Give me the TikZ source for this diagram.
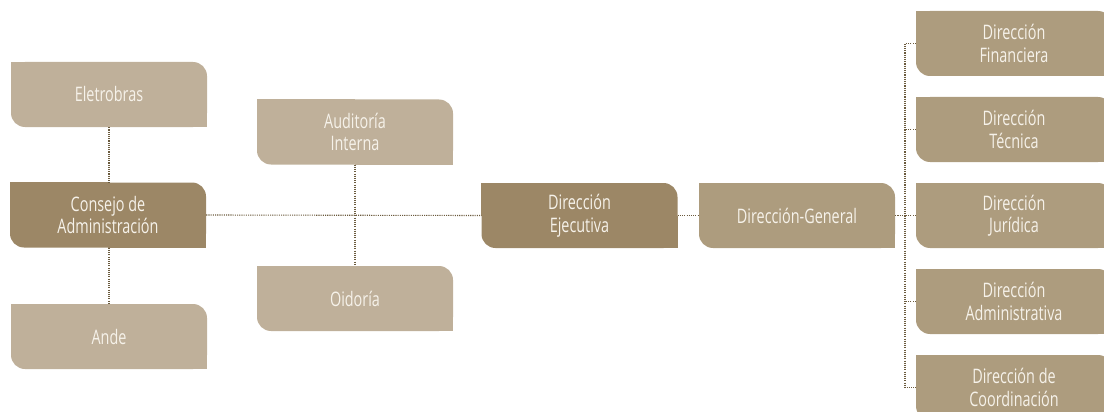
\documentclass[tikz,border=0pt]{standalone}
\usepackage{fontspec}
\setmainfont{Open Sans}[FakeStretch=0.72]
\usetikzlibrary{backgrounds}
\definecolor{lightbox}{HTML}{BFB09A}
\definecolor{darkbox}{HTML}{9C8766}
\definecolor{midbox}{HTML}{AD9C7E}
\definecolor{linec}{HTML}{6B5B3E}
\definecolor{txtc}{HTML}{F6F2EA}
\tikzset{
  orgbox/.style={rectangle, rounded corners=14pt, minimum width=196pt, minimum height=65pt,
    inner sep=0pt, align=center, text=txtc, font=\fontsize{20}{22.5}\selectfont},
  light/.style={orgbox, fill=lightbox},
  dark/.style={orgbox, fill=darkbox},
  mid/.style={orgbox, fill=midbox},
  conn/.style={draw=linec, line width=1.1pt, dash pattern=on 1.1pt off 1.1pt}
}
\begin{document}
\begin{tikzpicture}[x=1pt,y=-1pt]
\useasboundingbox (0,0) rectangle (1104,412);
\node[light] (ele) at (109,94.5) {Eletrobras};
\node[dark]  (cons) at (108,215) {Consejo de\\Administración};
\node[light] (ande) at (109,336.5) {Ande};
\node[light] (aud) at (355,132) {Auditoría\\Interna};
\node[light] (oid) at (355,298.5) {Oidoría};
\node[dark]  (ejec) at (579.5,215.5) {Dirección\\Ejecutiva};
\node[mid]   (gen) at (797,215.5) {Dirección-General};
\node[mid]   (fin) at (1014,43.5) {Dirección\\Financiera};
\node[mid]   (tec) at (1014,129.5) {Dirección\\Técnica};
\node[mid]   (jur) at (1014,215.5) {Dirección\\Jurídica};
\node[mid]   (adm) at (1014,301.5) {Dirección\\Administrativa};
\node[mid]   (coo) at (1014,387.5) {Dirección de\\Coordinación};
\coordinate (trunk) at (905,215.5);
\begin{scope}[on background layer]
\foreach \n/\c in {ele/lightbox,cons/darkbox,ande/lightbox,aud/lightbox,oid/lightbox,ejec/darkbox,gen/midbox,fin/midbox,tec/midbox,jur/midbox,adm/midbox,coo/midbox}{
  \fill[\c] (\n.north west) rectangle (\n.center);
  \fill[\c] (\n.center) rectangle (\n.south east);
}
\end{scope}
\draw[conn] (ele.south) -- (cons.north -| ele.south);
\draw[conn] (cons.south -| ande.north) -- (ande.north);
\draw[conn] (cons.east) -- (ejec.west);
\draw[conn] (aud.south) -- (oid.north);
\draw[conn] (ejec.east) -- (gen.west);
\draw[conn] (gen.east) -- (trunk);
\draw[conn] (fin.west) -| (trunk) |- (coo.west);
\draw[conn] (tec.west) -- (tec.west -| trunk);
\draw[conn] (jur.west) -- (trunk);
\draw[conn] (adm.west) -- (adm.west -| trunk);
\end{tikzpicture}
\end{document}
